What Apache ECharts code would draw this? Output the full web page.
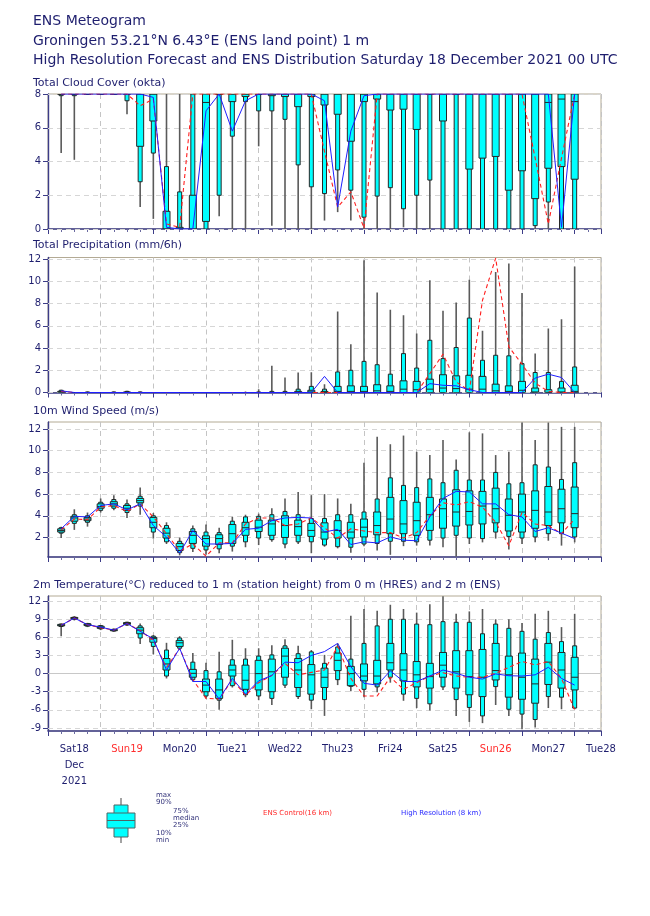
<!DOCTYPE html>
<html>
<head>
<meta charset="utf-8">
<script src="https://cdn.jsdelivr.net/npm/echarts@6.0.0/dist/echarts.min.js"></script>
<style>
html,body{margin:0;padding:0;background:#fff;}
#chart{width:650px;height:916px;}
</style>
</head>
<body>
<div id="chart"></div>
<script>
// forecast steps (hours after Sat 18 Dec 2021 00 UTC)
const steps = [6,12,18,24,30,36,42,48,54,60,66,72,78,84,90,96,102,108,114,120,126,132,138,144,150,156,162,168,174,180,186,192,198,204,210,216,222,228,234,240];
const dayLabels = ['Sat18','Sun19','Mon20','Tue21','Wed22','Thu23','Fri24','Sat25','Sun26','Mon27','Tue28'];
const monthLabel = 'Dec';
const yearLabel = '2021';

// Total cloud cover (okta)
const cloudMax = [8,8,8,8,8,8,8,8,8,8,8,8,8,8,8,8,8,8,8,8,8,8,8,8,8,8,8,8,8,8,8,8,8,8,8,8,8,8,8,8];
const cloudP90 = [8,8,8,8,8,8,8,8,3.7,2.2,8,8,8,8,8,8,8,8,8,8,8,8,8,8,8,8,8,8,8,8,8,8,8,8,8,8,8,8,8,8];
const cloudP75 = [8,8,8,8,8,8,8,8,1.05,0.1,2.0,8,8,8,8,8,8,8,8,8,8,8,8,8,8,8,8,8,8,8,8,8,8,8,8,8,8,8,8,8];
const cloudMed = [8,8,8,8,8,8,8,8,0,0,0,7.5,8,8,8,8,8,8,8,8,8,8,8,8,8,8,8,8,8,8,8,8,8,8,8,8,8,7.5,7.7,7.55];
const cloudP25 = [8,8,8,8,8,8,4.9,6.4,0,0,0,0.45,8,7.55,7.85,8,7.9,7.85,7.25,7.85,7.35,6.8,5.2,7.55,7.7,7.05,7.1,5.9,8,6.4,8,3.55,4.2,4.3,2.3,3.45,1.8,3.6,3.7,2.95];
const cloudP10 = [7.9,7.9,8,8,8,7.6,2.8,4.5,0,0,0,0,2.0,5.5,7.55,7.0,7.0,6.5,3.8,2.5,2.1,3.5,2.3,0.7,1.95,2.45,1.2,2.0,2.9,0,0,0,0,0,0,0,0.2,1.6,0,0];
const cloudMin = [4.5,4.1,8,8,8,6.8,1.3,0.6,0,0,0,0,0.75,0,0,4.9,0.2,0,0,0,0.5,1.0,0.5,0,0,0,0.1,0,0,0,0,0,0,0,0,0,0,0,0,0];
const cloudCtrl = [8,8,8,8,8,8,7.3,7.7,0.3,0.1,8,8,8,8,8,8,8,8,8,8,4.6,1.3,2.2,0.05,8,8,8,8,8,8,8,8,8,8,8,8,4.2,0.3,4.2,8];
const cloudHres = [8,8,8,8,8,8,8,7.8,0.1,0,0,7.0,8,5.8,7.6,8,8,8,8,8,7.6,1.3,5.8,7.9,8,8,8,8,8,8,8,8,8,8,8,8,8,8,0.1,8];

// Total precipitation (mm/6h)
const precMax = [0.25,0.05,0.1,0.05,0.1,0.15,0.1,0.05,0,0,0,0,0,0.05,0.1,0.3,2.4,1.35,1.8,1.82,0.75,7.3,4.35,11.9,9.0,7.45,6.95,5.3,10.1,7.35,8.1,10.15,5.55,10.85,11.6,8.95,3.5,5.75,6.6,11.35];
const precP90 = [0.2,0,0.05,0,0.05,0.1,0.05,0,0,0,0,0,0,0,0,0.05,0.1,0.1,0.3,0.55,0.3,1.85,2.0,2.8,2.5,1.65,3.5,2.2,4.7,3.05,4.05,6.7,2.9,3.35,3.3,2.6,1.8,1.8,1.0,2.3];
const precP75 = [0.1,0,0,0,0,0.05,0,0,0,0,0,0,0,0,0,0,0,0,0.1,0.2,0.1,0.55,0.6,0.55,0.7,0.6,1.05,1.0,1.2,1.6,1.5,1.55,1.45,0.75,0.6,1.0,0.4,0.25,0.4,0.65];
const precMed = [0.05,0,0,0,0,0,0,0,0,0,0,0,0,0,0,0,0,0,0,0.05,0.02,0.1,0.1,0.1,0.15,0.1,0.3,0.25,0.3,0.4,0.35,0.3,0.3,0.15,0.1,0.2,0.05,0.02,0.05,0.1];
const precP25 = [0,0,0,0,0,0,0,0,0,0,0,0,0,0,0,0,0,0,0,0,0,0,0,0,0,0,0,0,0,0,0,0,0,0,0,0,0,0,0,0];
const precP10 = [0,0,0,0,0,0,0,0,0,0,0,0,0,0,0,0,0,0,0,0,0,0,0,0,0,0,0,0,0,0,0,0,0,0,0,0,0,0,0,0];
const precMin = [0,0,0,0,0,0,0,0,0,0,0,0,0,0,0,0,0,0,0,0,0,0,0,0,0,0,0,0,0,0,0,0,0,0,0,0,0,0,0,0];
const precCtrl = [0.1,0,0,0,0,0,0,0,0,0,0,0,0,0,0,0,0,0,0,0,0,0,0,0,0,0,0,0,1.7,3.45,0.95,0.15,8.3,12.1,4.1,2.55,0.85,0.1,0,0];
const precHres = [0.15,0,0,0,0,0,0,0,0,0,0,0,0,0,0,0,0,0,0,0,1.45,0,0,0,0,0,0,0,0.8,0.65,0.6,0.25,0,0,0,0,1.3,1.65,1.35,0];

// 10m wind speed (m/s)
const windMax = [3.0,4.6,4.3,5.6,5.9,5.5,6.6,4.25,3.4,2.0,3.1,3.2,2.9,3.9,4.1,4.2,4.7,5.6,6.2,5.9,6.0,5.6,5.1,8.9,11.3,10.6,11.4,9.9,9.6,11.0,9.2,11.7,11.6,9.6,9.9,12.6,11.0,12.6,12.2,12.2];
const windP90 = [2.9,4.1,4.0,5.25,5.5,5.1,5.8,4.0,3.1,1.65,2.8,2.5,2.45,3.5,3.9,3.95,4.1,4.4,4.1,3.75,3.75,4.1,4.1,4.35,5.55,7.5,6.8,6.6,7.4,7.05,8.2,7.3,7.3,8.0,6.95,7.05,8.7,8.5,7.35,8.9];
const windP75 = [2.8,3.95,3.85,5.1,5.3,4.95,5.6,3.85,2.85,1.45,2.55,2.15,2.25,3.2,3.4,3.6,3.6,4.0,3.6,3.3,3.35,3.55,3.4,3.7,4.35,5.7,5.4,5.25,5.7,5.55,6.4,6.3,6.25,6.55,5.55,6.0,6.3,6.7,6.45,6.65];
const windMed = [2.65,3.8,3.7,4.85,5.1,4.7,5.4,3.4,2.4,1.15,2.2,1.9,1.9,2.35,2.9,2.95,3.25,3.1,3.0,2.65,2.5,2.65,2.5,2.95,3.1,3.7,3.25,3.55,4.1,4.65,4.35,4.4,4.9,4.65,4.05,4.35,4.5,4.35,4.65,4.2];
const windP25 = [2.5,3.5,3.55,4.7,4.9,4.5,5.2,2.9,1.95,0.8,1.45,1.2,1.35,1.45,2.2,2.55,2.2,2.0,2.2,2.1,1.85,1.95,1.95,2.05,2.25,2.35,2.35,2.2,2.65,2.85,3.05,3.15,3.25,3.35,2.6,2.5,2.85,3.1,3.35,2.9];
const windP10 = [2.4,3.3,3.4,4.5,4.7,4.3,4.9,2.5,1.6,0.6,1.0,0.85,0.95,1.2,1.6,1.95,1.8,1.4,1.6,1.6,1.3,1.15,1.1,1.4,1.45,1.65,1.65,1.6,1.75,1.95,2.2,1.95,1.9,2.5,2.1,1.95,2.05,2.35,2.35,2.05];
const windMin = [1.95,2.7,3.0,4.3,4.5,3.8,4.1,1.9,1.4,0.35,0.65,0.4,0.55,0.7,1.1,1.3,1.6,1.0,1.4,0.55,1.15,1.0,0.6,1.2,0.8,0.4,1.2,1.25,1.25,1.1,0.25,1.4,1.55,1.9,0.9,1.4,1.55,1.7,1.25,1.55];
const windCtrl = [2.7,3.7,3.65,4.8,4.95,4.4,5.1,3.9,2.35,0.75,1.4,0.28,1.5,1.5,3.25,3.8,3.8,3.1,3.25,3.8,2.9,1.95,2.8,2.6,2.45,2.45,1.95,2.45,4.0,5.2,5.0,5.3,4.8,3.4,1.25,4.3,3.25,3.1,2.35,3.7];
const windHres = [2.8,3.95,3.9,4.95,5.1,4.55,5.1,3.1,2.05,0.55,2.65,1.4,1.4,1.45,2.75,2.85,3.55,3.8,3.85,3.8,2.5,2.75,1.35,1.6,1.5,2.05,1.75,1.7,3.9,5.6,6.25,6.2,5.1,5.1,4.1,3.9,2.55,2.9,2.4,1.9];

// 2m temperature (°C)
const tempMax = [8.3,9.5,8.4,8.05,7.45,8.6,8.3,6.4,5.1,6.2,3.4,1.8,3.6,5.6,4.2,4.2,4.7,5.7,4.6,3.9,3.1,5.0,9.6,10.7,10.4,11.4,10.7,10.1,11.5,12.8,9.9,10.3,10.7,9.0,9.0,8.4,9.9,10.4,7.7,9.9];
const tempP90 = [8.2,9.35,8.3,7.95,7.35,8.5,7.9,6.2,3.9,5.9,1.9,0.5,0.3,2.3,2.4,2.9,3.1,4.6,3.3,3.6,1.7,4.4,2.4,5.0,7.9,9.0,9.0,8.2,8.1,8.6,8.5,8.5,6.6,8.2,7.5,7.0,5.7,6.8,5.3,4.6];
const tempP75 = [8.15,9.3,8.25,7.85,7.3,8.45,7.6,6.0,2.5,5.5,0.7,-0.9,-0.9,1.4,1.4,2.2,2.4,4.2,2.5,1.5,0.9,3.4,1.2,1.6,2.2,5.0,3.3,2.0,1.7,3.5,3.8,3.8,4.0,5.0,2.9,3.4,2.4,5.0,3.5,2.7];
const tempMed = [8.0,9.2,8.1,7.65,7.2,8.3,7.2,5.8,1.6,5.1,0.05,-1.9,-2.7,0.6,-1.1,0.0,0.3,2.9,0.6,-0.2,-0.6,2.2,0.0,-0.4,-0.4,1.8,0.6,-0.2,-0.5,1.4,0.3,-0.5,-0.6,0.5,-0.2,-0.6,-1.7,1.9,0.6,-0.6];
const tempP25 = [7.9,9.1,7.95,7.5,7.1,8.15,6.6,5.2,0.6,4.5,-0.6,-3.0,-4.1,-0.4,-2.6,-2.7,-3.0,-0.6,-2.3,-3.4,-2.3,0.5,-2.0,-1.2,-1.7,0.6,-1.2,-2.2,-2.4,-0.6,-2.4,-3.5,-3.8,-1.05,-3.9,-4.25,-4.9,-1.8,-2.4,-2.7];
const tempP10 = [7.8,9.0,7.85,7.4,7.05,8.05,5.9,4.5,-0.4,4.2,-1.0,-3.7,-4.4,-2.0,-3.5,-3.7,-4.1,-1.9,-3.8,-4.4,-4.3,-1.0,-2.1,-2.6,-2.2,-0.6,-3.4,-4.1,-5.0,-2.2,-4.3,-5.6,-7.0,-2.15,-5.9,-6.7,-7.6,-3.8,-3.9,-5.7];
const tempMin = [6.2,8.8,7.7,7.2,6.95,7.9,4.9,3.2,-0.8,3.9,-1.3,-4.1,-6.0,-2.3,-3.9,-4.4,-5.2,-2.4,-4.2,-5.9,-7.0,-1.9,-2.9,-3.9,-3.1,-1.5,-4.5,-5.7,-6.1,-2.7,-7.0,-8.0,-8.2,-5.2,-7.0,-9.2,-8.9,-5.7,-5.9,-5.9];
const tempCtrl = [8.0,9.2,8.1,7.6,7.2,8.3,7.1,5.5,1.0,4.2,-1.0,-4.1,-4.2,-1.0,-3.6,-1.5,-0.3,1.7,-0.2,0.2,0.6,4.5,-0.8,-3.7,-3.7,-0.6,-2.6,-1.5,-0.4,0.15,-0.4,-0.6,-0.6,0.05,1.05,2.0,1.45,2.0,-0.8,-6.0];
const tempHres = [8.0,9.2,8.1,7.7,7.2,8.3,7.0,5.75,0.6,4.2,-1.3,-1.3,-4.2,-0.8,-3.4,-1.2,-0.3,1.9,1.8,3.0,3.65,5.0,1.15,-1.6,-1.9,0.45,-1.3,-1.3,-0.4,0.6,0.05,-0.6,-0.9,-0.05,-0.35,-0.4,-0.2,1.05,-0.8,-1.9];

// y-axis tick values
const cloudTicks = [0,2,4,6,8];
const precTicks = [0,2,4,6,8,10,12];
const windTicks = [2,4,6,8,10,12];
const tempTicks = [-9,-6,-3,0,3,6,9,12];

const NAVY = '#1e1e6e';
const FONT = 'DejaVu Sans';

function boxData(mn, p10, p25, med, p75, p90, mx) {
  return steps.map((t, i) => [t, mn[i], p10[i], p25[i], med[i], p75[i], p90[i], mx[i]]);
}
function lineData(vals) {
  return steps.map((t, i) => [t, vals[i]]);
}

function renderBox(params, api) {
  const t = api.value(0);
  const x = api.coord([t, api.value(4)])[0];
  const yv = k => api.coord([t, api.value(k)])[1];
  const yMin = yv(1), y10 = yv(2), y25 = yv(3), yMed = yv(4), y75 = yv(5), y90 = yv(6), yMax = yv(7);
  const nw = 4, ww = 7;
  const edge = '#262626';
  return {
    type: 'group',
    children: [
      { type: 'line', shape: { x1: x, y1: yMax, x2: x, y2: yMin }, style: { stroke: '#5a5a5a', lineWidth: 1.6 } },
      { type: 'rect', shape: { x: x - nw / 2, y: y90, width: nw, height: Math.max(y10 - y90, 0.01) }, style: { fill: '#00ffff', stroke: edge, lineWidth: 1 } },
      { type: 'rect', shape: { x: x - ww / 2, y: y75, width: ww, height: Math.max(y25 - y75, 0.01) }, style: { fill: '#00ffff', stroke: edge, lineWidth: 1 } },
      { type: 'line', shape: { x1: x - ww / 2, y1: yMed, x2: x + ww / 2, y2: yMed }, style: { stroke: edge, lineWidth: 1 } }
    ]
  };
}

const grids = [
  { left: 48, width: 553, top: 94, height: 135 },
  { left: 48, width: 553, top: 257.5, height: 135 },
  { left: 48, width: 553, top: 422, height: 135 },
  { left: 48, width: 553, top: 596, height: 135 }
].map(g => Object.assign(g, { show: true, borderColor: '#b3aa94', borderWidth: 1, containLabel: false }));

function mkX(gi) {
  return {
    type: 'value', gridIndex: gi, min: 0, max: 252, interval: 24,
    axisLine: { show: true, onZero: false, lineStyle: { color: '#3c3c88', width: 1.6 } },
    axisTick: { show: true, length: 5, lineStyle: { color: '#3c3c88', width: 1 } },
    minorTick: { show: true, splitNumber: 4, length: 3, lineStyle: { color: '#6a6aa0', width: 1 } },
    axisLabel: { show: false },
    splitLine: { show: true, lineStyle: { color: '#c4c4c4', type: [5, 4], width: 1 } }
  };
}
function mkY(gi, min, max, ticks) {
  return {
    type: 'value', gridIndex: gi, min: min, max: max,
    axisLine: { show: true, lineStyle: { color: '#3c3c88', width: 1.4 } },
    axisTick: { show: true, length: 5, customValues: ticks, lineStyle: { color: '#3c3c88' } },
    axisLabel: { show: true, customValues: ticks, color: NAVY, fontFamily: FONT, fontSize: 10, margin: 7 },
    splitLine: { show: false }
  };
}
function gridLines(ticks, zeroSolid) {
  return {
    silent: true, symbol: ['none', 'none'], z: 1, animation: false,
    label: { show: false },
    emphasis: { disabled: true },
    lineStyle: { color: '#d6d6d6', type: [5, 4], width: 1 },
    data: ticks.map(v => (zeroSolid && v === 0)
      ? { yAxis: v, lineStyle: { color: '#c8c8c8', type: 'solid', width: 1 } }
      : { yAxis: v })
  };
}

const xAxes = [mkX(0), mkX(1), mkX(2), mkX(3), {
  type: 'value', gridIndex: 3, min: 0, max: 252, interval: 12, position: 'bottom',
  axisLine: { show: false }, axisTick: { show: false }, splitLine: { show: false }, minorTick: { show: false },
  axisLabel: {
    show: true, margin: 10, showMinLabel: true, showMaxLabel: true, hideOverlap: false,
    formatter: function (v) {
      if (Math.round(v) % 24 !== 12) return '';
      const d = Math.round((v - 12) / 24);
      const name = dayLabels[d];
      if (!name) return '';
      const st = name.indexOf('Sun') === 0 ? 'sun' : 'day';
      let s = '{' + st + '|' + name + '}';
      if (d === 0) s += '\n{day|' + monthLabel + '}\n{day|' + yearLabel + '}';
      return s;
    },
    rich: {
      day: { color: NAVY, fontFamily: FONT, fontSize: 10, lineHeight: 16 },
      sun: { color: '#ff2d2d', fontFamily: FONT, fontSize: 10, lineHeight: 16 }
    }
  }
}];

const yAxes = [
  mkY(0, 0, 8, cloudTicks),
  mkY(1, 0, 12.15, precTicks),
  mkY(2, 0.2, 12.65, windTicks),
  mkY(3, -9.5, 12.85, tempTicks)
];

const panels = [
  { box: boxData(cloudMin, cloudP10, cloudP25, cloudMed, cloudP75, cloudP90, cloudMax), ctrl: cloudCtrl, hres: cloudHres, ticks: cloudTicks },
  { box: boxData(precMin, precP10, precP25, precMed, precP75, precP90, precMax), ctrl: precCtrl, hres: precHres, ticks: precTicks },
  { box: boxData(windMin, windP10, windP25, windMed, windP75, windP90, windMax), ctrl: windCtrl, hres: windHres, ticks: windTicks },
  { box: boxData(tempMin, tempP10, tempP25, tempMed, tempP75, tempP90, tempMax), ctrl: tempCtrl, hres: tempHres, ticks: tempTicks }
];

const series = [];
panels.forEach((p, gi) => {
  series.push({
    type: 'custom', name: 'ENS', xAxisIndex: gi, yAxisIndex: gi, clip: true, z: 2,
    renderItem: renderBox, data: p.box,
    encode: { x: 0, y: [1, 2, 3, 4, 5, 6, 7] },
    markLine: gridLines(p.ticks, gi === 3),
    silent: true
  });
  series.push({
    type: 'line', name: 'ENS Control', xAxisIndex: gi, yAxisIndex: gi, z: 4,
    data: lineData(p.ctrl), showSymbol: false, symbol: 'none', clip: true,
    lineStyle: { color: '#ff2020', width: 1.1, type: [4, 3] }, silent: true
  });
  series.push({
    type: 'line', name: 'High Resolution', xAxisIndex: gi, yAxisIndex: gi, z: 5,
    data: lineData(p.hres), showSymbol: false, symbol: 'none', clip: true,
    lineStyle: { color: '#1e1eff', width: 1 }, silent: true
  });
});

function txt(x, y, text, size, color, extra) {
  return Object.assign({
    type: 'text', x: x, y: y, silent: true,
    style: { text: text, fill: color, font: size + 'px "' + FONT + '"', textVerticalAlign: 'middle', verticalAlign: 'middle' }
  }, extra || {});
}

const graphics = [
  txt(33, 21, 'ENS Meteogram', 14, NAVY),
  txt(33, 41, 'Groningen 53.21°N 6.43°E (ENS land point) 1 m', 14, NAVY),
  txt(33, 60, 'High Resolution Forecast and ENS Distribution Saturday 18 December 2021 00 UTC', 14, NAVY),
  txt(33, 83, 'Total Cloud Cover (okta)', 11, NAVY),
  txt(33, 245, 'Total Precipitation (mm/6h)', 11, NAVY),
  txt(33, 411, '10m Wind Speed (m/s)', 11, NAVY),
  txt(33, 585, '2m Temperature(°C) reduced to 1 m (station height) from 0 m (HRES) and 2 m (ENS)', 11, NAVY),
  // legend symbol
  { type: 'line', silent: true, shape: { x1: 121, y1: 798, x2: 121, y2: 843 }, style: { stroke: '#666', lineWidth: 1.2 } },
  { type: 'rect', silent: true, shape: { x: 114, y: 805, width: 14, height: 32 }, style: { fill: '#00ffff', stroke: '#4f6464', lineWidth: 1 } },
  { type: 'rect', silent: true, shape: { x: 107, y: 813, width: 28, height: 15 }, style: { fill: '#00ffff', stroke: '#4f6464', lineWidth: 1 } },
  { type: 'line', silent: true, shape: { x1: 107, y1: 820.5, x2: 135, y2: 820.5 }, style: { stroke: '#4f6464', lineWidth: 1 } },
  txt(156, 795, 'max', 7, '#33337a'),
  txt(156, 802, '90%', 7, '#33337a'),
  txt(173, 811, '75%', 7, '#33337a'),
  txt(173, 818, 'median', 7, '#33337a'),
  txt(173, 825, '25%', 7, '#33337a'),
  txt(156, 833, '10%', 7, '#33337a'),
  txt(156, 840, 'min', 7, '#33337a'),
  txt(263, 813, 'ENS Control(16 km)', 7, '#ff2a2a'),
  txt(401, 813, 'High Resolution (8 km)', 7, '#2a2aff')
];

const chart = echarts.init(document.getElementById('chart'), null, { renderer: 'canvas' });
chart.setOption({
  backgroundColor: '#ffffff',
  animation: false,
  grid: grids,
  xAxis: xAxes,
  yAxis: yAxes,
  series: series,
  graphic: graphics
});
</script>
</body>
</html>
